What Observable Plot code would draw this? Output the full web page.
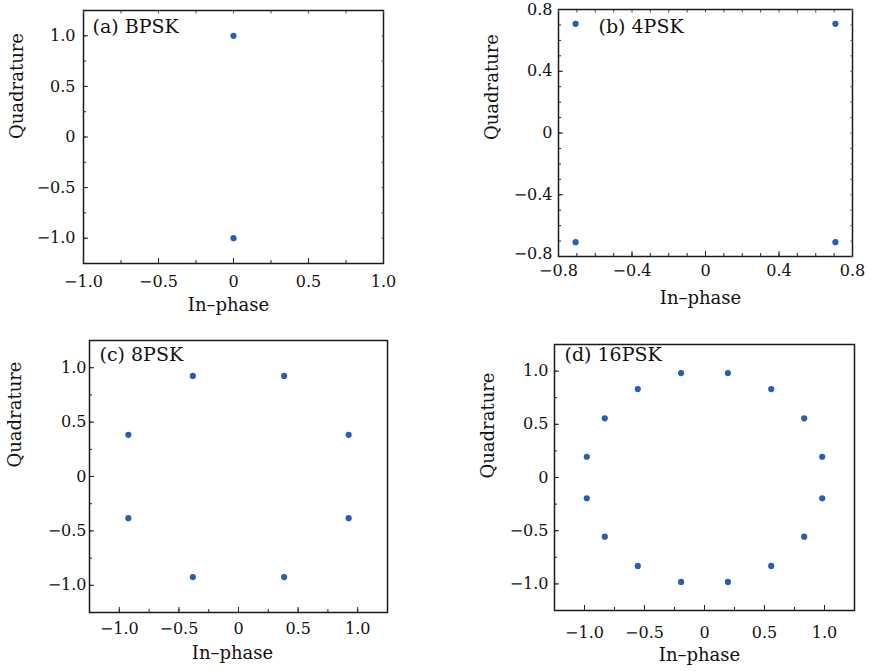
<!DOCTYPE html>
<html>
<head>
<meta charset="utf-8">
<script src="https://cdn.jsdelivr.net/npm/d3@7"></script>
<script src="https://cdn.jsdelivr.net/npm/@observablehq/plot@0.6"></script>
<style>
  html, body { margin: 0; padding: 0; background: #ffffff; }
  #wrap { position: relative; width: 871px; height: 671px; overflow: hidden; }
  #wrap > div { position: absolute; }
  svg { overflow: visible; }
</style>
</head>
<body>
<div id="wrap">
  <div id="pa" style="left:0px;top:0px"></div>
  <div id="pb" style="left:435px;top:0px"></div>
  <div id="pc" style="left:0px;top:320px"></div>
  <div id="pd" style="left:435px;top:320px"></div>
</div>
<script>
// ---------- data ----------
const titles = ["(a) BPSK", "(b) 4PSK", "(c) 8PSK", "(d) 16PSK"];
const xLabel = "In–phase";
const yLabel = "Quadrature";

const bpskI = [0, 0];
const bpskQ = [1.0, -1.0];

const qpskI = [-0.707, 0.707, -0.707, 0.707];
const qpskQ = [0.707, 0.707, -0.707, -0.707];

const psk8I = [0.924, 0.383, -0.383, -0.924, -0.924, -0.383, 0.383, 0.924];
const psk8Q = [0.383, 0.924, 0.924, 0.383, -0.383, -0.924, -0.924, -0.383];

const psk16I = [0.981, 0.831, 0.556, 0.195, -0.195, -0.556, -0.831, -0.981,
                -0.981, -0.831, -0.556, -0.195, 0.195, 0.556, 0.831, 0.981];
const psk16Q = [0.195, 0.556, 0.831, 0.981, 0.981, 0.831, 0.556, 0.195,
                -0.195, -0.556, -0.831, -0.981, -0.981, -0.831, -0.556, -0.195];

const ticksUnit = [-1.0, -0.5, 0, 0.5, 1.0];
const minorUnit = [-1.0, -0.75, -0.5, -0.25, 0, 0.25, 0.5, 0.75, 1.0];
const ticksB = [-0.8, -0.4, 0, 0.4, 0.8];
const minorB = [-0.8, -0.7, -0.6, -0.5, -0.4, -0.3, -0.2, -0.1, 0, 0.1, 0.2, 0.3, 0.4, 0.5, 0.6, 0.7, 0.8];

const domainUnit = [-1.25, 1.25];
const domainB = [-0.8, 0.8];

// ---------- drawing ----------
const dotColor = "#2b5cb0";
const fmt = d => d === 0 ? "0" : d3.format(".1f")(d);

function panel(el, o) {
  const data = o.I.map((v, i) => ({I: v, Q: o.Q[i]}));
  const lowest = d3.min(o.yticks);
  const yMain = o.ylowdy ? o.yticks.filter(d => d !== lowest) : o.yticks;
  const marks = [
    Plot.frame({stroke: "#1a1a1a", strokeWidth: 1.5}),
    // labels
    Plot.axisX(o.xticks, {tickSize: 0, tickPadding: o.xpad, tickFormat: fmt, fontSize: 16}),
    Plot.axisY(yMain, {tickSize: 0, tickPadding: o.ypad, tickFormat: fmt, fontSize: 16}),
    // inward ticks
    Plot.axisX(o.xticks, {tickSize: -5, fill: "none", stroke: "#222"}),
    Plot.axisY(o.yticks, {tickSize: -5, fill: "none", stroke: "#222"}),
    Plot.axisX(o.xminor, {tickSize: -3, fill: "none", stroke: "#222"}),
    Plot.axisY(o.yminor, {tickSize: -3, fill: "none", stroke: "#222"}),
  ];
  if (o.ylowdy) {
    marks.push(Plot.axisY([lowest], {tickSize: 0, tickPadding: o.ypad, tickFormat: fmt, fontSize: 16, dy: o.ylowdy}));
  }
  if (o.mirror) {
    marks.push(Plot.axisX(o.xminor, {anchor: "top", tickSize: -2.5, fill: "none", stroke: "#444"}));
    marks.push(Plot.axisY(o.yminor, {anchor: "right", tickSize: -2.5, fill: "none", stroke: "#444"}));
  }
  marks.push(
    Plot.dot(data, {x: "I", y: "Q", r: 3.1, fill: dotColor, stroke: "none"}),
    Plot.text([o.title], {frameAnchor: "top-left", textAnchor: "start", lineAnchor: "top",
      dx: o.tdx, dy: o.tdy, fontSize: 19}),
    Plot.text([xLabel], {frameAnchor: "bottom", lineAnchor: "middle", dy: o.xldy, dx: o.xldx, fontSize: 18}),
    Plot.text([yLabel], {frameAnchor: "left", lineAnchor: "middle", rotate: -90, dx: o.yldx, dy: o.yldy, fontSize: 18})
  );
  const chart = Plot.plot({
    width: o.width, height: o.height,
    marginLeft: o.ml, marginRight: o.mr, marginTop: o.mt, marginBottom: o.mb,
    x: {domain: o.xdomain, label: null},
    y: {domain: o.ydomain, label: null},
    style: {fontFamily: "'DejaVu Serif', serif", color: "#111", background: "transparent"},
    marks
  });
  document.getElementById(el).appendChild(chart);
}

panel("pa", {I: bpskI, Q: bpskQ, title: titles[0], width: 435, height: 320,
  ml: 83, mr: 52, mt: 10, mb: 57, xdomain: [-1, 1], ydomain: domainUnit,
  xticks: ticksUnit, yticks: ticksUnit, xminor: minorUnit, yminor: minorUnit,
  xpad: 12, ypad: 8, mirror: true, tdx: 9, tdy: 9, xldy: 42, xldx: -5, yldx: -66, yldy: 2});

panel("pb", {I: qpskI, Q: qpskQ, title: titles[1], width: 436, height: 320,
  ml: 123, mr: 19, mt: 9, mb: 64, xdomain: domainB, ydomain: domainB,
  xticks: ticksB, yticks: ticksB, xminor: minorB, yminor: minorB,
  xpad: 8, ypad: 6, ylowdy: -3, mirror: true, tdx: 40, tdy: 10, xldy: 42, xldx: -5, yldx: -66, yldy: 7});

panel("pc", {I: psk8I, Q: psk8Q, title: titles[2], width: 435, height: 351,
  ml: 89, mr: 48, mt: 20, mb: 59, xdomain: domainUnit, ydomain: domainUnit,
  xticks: ticksUnit, yticks: ticksUnit, xminor: minorUnit, yminor: minorUnit,
  xpad: 10, ypad: 3, mirror: false, tdx: 10, tdy: 7, xldy: 41, xldx: -6, yldx: -74, yldy: -9});

panel("pd", {I: psk16I, Q: psk16Q, title: titles[3], width: 436, height: 351,
  ml: 119, mr: 17, mt: 24, mb: 61, xdomain: domainUnit, ydomain: domainUnit,
  xticks: ticksUnit, yticks: ticksUnit, xminor: minorUnit, yminor: minorUnit,
  xpad: 16, ypad: 6, mirror: false, tdx: 10, tdy: 3, xldy: 45, xldx: -5, yldx: -66, yldy: 1});
</script>
</body>
</html>
